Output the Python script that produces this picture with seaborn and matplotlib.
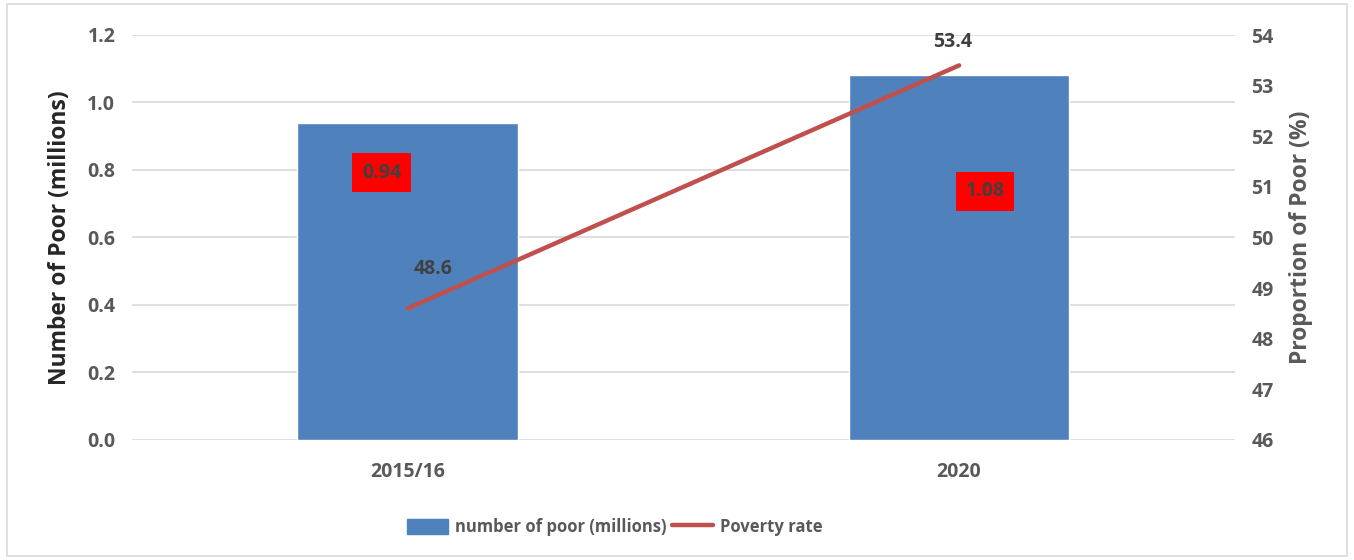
import matplotlib.pyplot as plt
import matplotlib.patches as mpatches
from matplotlib.lines import Line2D
import seaborn as sns
import pandas as pd
import numpy as np

# data
years = ['2015/16', '2020']
poor_millions = [0.94, 1.08]
poverty_rate = [48.6, 53.4]

bar_color = '#4F81BD'
line_color = '#C0504D'
tick_color = '#595959'

sns.set_style('white')
plt.rcParams['font.family'] = ['Open Sans', 'DejaVu Sans']
plt.rcParams['font.weight'] = 'bold'

fig = plt.figure(figsize=(13.54, 5.6), dpi=100)
ax = fig.add_axes([0.0975, 0.2143, 0.8145, 0.7232])

df = pd.DataFrame({'year': years, 'poor': poor_millions, 'rate': poverty_rate})
sns.barplot(data=df, x='year', y='poor', color=bar_color, width=0.4,
            saturation=1, ax=ax, zorder=2)

ax.set_ylim(0, 1.2)
ax.set_yticks(np.arange(0, 1.21, 0.2))
ax.set_yticklabels([f'{v:.1f}' for v in np.arange(0, 1.21, 0.2)])
ax.set_xlim(-0.5, 1.5)
ax.grid(axis='y', color='#D9D9D9', linewidth=1.2, zorder=0)
ax.set_axisbelow(True)
for s in ax.spines.values():
    s.set_visible(False)
ax.tick_params(axis='both', length=0, labelsize=14, labelcolor=tick_color)
ax.tick_params(axis='y', pad=12)
ax.tick_params(axis='x', pad=16)
for lab in ax.get_xticklabels() + ax.get_yticklabels():
    lab.set_fontweight('bold')
ax.set_xlabel('')
ax.set_ylabel('Number of Poor (millions)', fontsize=16.5, fontweight='bold', color='#262626')
ax.yaxis.set_label_coords(-0.054, 0.5)

# bar value labels (red boxes), offsets as placed in the original
bar_offsets = [(-26, -50), (26, -116)]
for i, (v, off) in enumerate(zip(poor_millions, bar_offsets)):
    ax.annotate(f'{v:.2f}', xy=(i, v), xytext=off, textcoords='offset pixels',
                ha='center', va='center', fontsize=14, fontweight='bold', color='#404040',
                bbox=dict(boxstyle='square,pad=0.5', fc='#FF0000', ec='none'), zorder=5)

ax2 = ax.twinx()
sns.lineplot(x=np.arange(len(years)), y=poverty_rate, color=line_color, linewidth=3.2,
             ax=ax2, zorder=4)
ax2.set_ylim(46, 54)
ax2.set_yticks(range(46, 55))
for s in ax2.spines.values():
    s.set_visible(False)
ax2.tick_params(axis='y', length=0, labelsize=14, labelcolor=tick_color, pad=12)
for lab in ax2.get_yticklabels():
    lab.set_fontweight('bold')
ax2.set_ylabel('Proportion of Poor (%)', fontsize=16.5, fontweight='bold', color=tick_color)
ax2.yaxis.set_label_coords(1.049, 0.5)
ax2.grid(False)

line_offsets = [(25, 39), (-7, 23)]
for i, (v, off) in enumerate(zip(poverty_rate, line_offsets)):
    ax2.annotate(f'{v:.1f}', xy=(i, v), xytext=off, textcoords='offset pixels',
                 ha='center', va='center', fontsize=14, fontweight='bold', color='#404040')

handles = [mpatches.Patch(color=bar_color),
           Line2D([0], [0], color=line_color, linewidth=3.2)]
fig.legend(handles, ['number of poor (millions)', 'Poverty rate'], loc='center',
           bbox_to_anchor=(0.454, 0.059), ncol=2, frameon=False,
           prop={'family': ['Open Sans', 'DejaVu Sans'], 'weight': 'bold', 'size': 12},
           handlelength=2.5, handleheight=1.0, handletextpad=0.4,
           columnspacing=0.3, labelcolor=tick_color)

fig.patches.append(mpatches.Rectangle((0.005, 0.008), 0.99, 0.984, transform=fig.transFigure,
                                      fill=False, ec='#D9D9D9', lw=1.2))

fig.savefig('out.png', dpi=100)
